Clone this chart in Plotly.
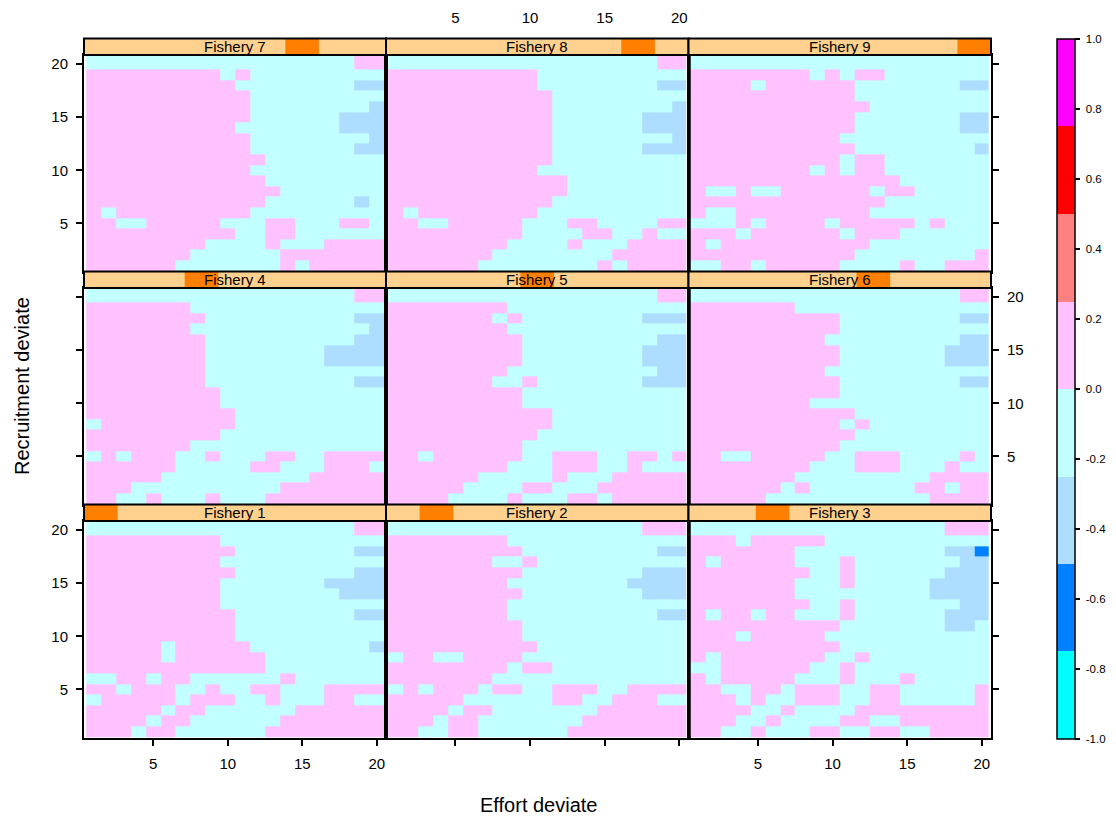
import numpy as np
import plotly.graph_objects as go

# ---------------- data (cell classes) ----------------
# rows listed from y=20 (top) down to y=1; columns x=1..20 (spaces only for readability)
# p: 0..0.25, c: -0.25..0, b: -0.5..-0.25, B: -0.75..-0.5
fishery1 = [
    "ccccc ccccc ccccc cccpp", "ppppp ppppc ccccc ccccc", "ppppp ppppp ccccc cccbb",
    "ppppp ppppc ccccc ccccc", "ppppp ppppp ccccc cccbb", "ppppp ppppc ccccc cbbbb",
    "ppppp ppppc ccccc ccbbb", "ppppp ppppc ccccc ccccc", "ppppp ppppp ccccc cccbb",
    "ppppp ppppp ccccc ccccc", "ppppp ppppp ccccc ccccc", "ppppp cpppp pcccc ccccb",
    "ppppp cpppp ppccc ccccc", "ppppp ppppp ppccc ccccc", "ccppc ppccc cccpc ccccc",
    "ppcpp pccpc cppcc cpppp", "cpppp pcppp ccpcc cppcc", "ppppp cppcc ccccp ppppp",
    "ppppc ppccc cccpp ppppp", "pppcp pcccc ccppp ppppp",
]
fishery2 = [
    "ccccc ccccc ccccc ccppp", "ppppp pppcc ccccc ccccc", "ppppp ppppc ccccc cccbb",
    "ppppp ppccp ccccc ccccc", "ppppp ppppc ccccc ccbbb", "ppppp pppcc ccccc cbbbb",
    "ppppp ppppc ccccc ccbbb", "ppppp pppcc ccccc ccccc", "ppppp pppcc ccccc cccbb",
    "ppppp ppppc ccccc ccccc", "ppppp ppppc ccccc ccccc", "ppppp ppppp ccccc ccccc",
    "cppcc ppppc ccccc ccccc", "ppppp pppcp pcccc ccccc", "ppppp ppccc ccccc ccccc",
    "cpcpp pcppc cpppc cpppp", "ppppp ccccc cppcc pppcc", "ppppc ppccc ccccp ppppp",
    "pppcp pcccc cccpp ppppp", "ppccp pcccc ccppp ppppp",
]
fishery3 = [
    "ccccc ccccc ccccc ccppp", "pppcp ppppc ccccc ccccc", "ppppp ppccc ccccc ccbbB",
    "pcppp ppccc pcccc cccbb", "ppppp pppcc pcccc ccbbb", "ppppp ppccc pcccc cbbbb",
    "ppppp ppccc ccccc cbbbb", "ppppp pppcc pcccc cccbb", "pcppc ppccc pcccc ccbbb",
    "ppppp ppppp ccccc ccbbc", "pppcp ppppc ccccc ccccc", "ppppp ppppp ccccc ccccc",
    "pcppp ppppc cpccc ccccc", "ccppp pppcc pcccc ccccc", "pcppp ppccc pcccp ccccc",
    "ppccp pcppp ccppc ccccp", "pppcp ccppp ccppc ccccp", "ppppc cpccc cpppp ppppp",
    "pppcc pcccc ppccp ppppp", "ppccp cccpp ccppc cpppp",
]
fishery4 = [
    "ccccc ccccc ccccc cccpp", "ppppp ppccc ccccc ccccc", "ppppp pppcc ccccc cccbb",
    "ppppp ppccc ccccc ccccb", "ppppp pppcc ccccc cccbb", "ppppp pppcc ccccc cbbbb",
    "ppppp pppcc ccccc cbbbb", "ppppp pppcc ccccc ccccc", "ppppp pppcc ccccc cccbb",
    "ppppp ppppc ccccc ccccc", "ppppp ppppc ccccc ccccc", "ppppp ppppp ccccc ccccc",
    "cpppp ppppp ccccc ccccc", "ppppp ppppc ccccc ccccc", "ppppp ppccc ccccc ccccc",
    "cpcpp pccpc ccppc cpppp", "ppppp pcccc cppcc cpppc", "ppppp ccccc ccccc ppppp",
    "pppcc ccccc cccpp ppppp", "ppccp cccpc ccppp ppppp",
]
fishery5 = [
    "ccccc ccccc ccccc cccpp", "ppppp pppcc ccccc ccccc", "ppppp ppcpc ccccc ccbbb",
    "ppppp pppcc ccccc ccccc", "ppppp ppppc ccccc cccbb", "ppppp ppppc ccccc ccbbb",
    "ppppp ppppc ccccc ccbbb", "ppppp pppcc ccccc cccbb", "ppppp ppccp ccccc ccbbb",
    "ppppp ppppc ccccc ccccc", "ppppp ppppc ccccc ccccc", "ppppp ppppp pcccc ccccc",
    "ppppp ppppp pcccc ccccc", "ppppp ppppp ccccc ccccc", "ppppp ppppc ccccc ccccc",
    "ppcpp ppppc cpppc cppcp", "ppppp pppcc cpppc cpccc", "ppppp pcccc cpccc ppppp",
    "ppppp ccccp pcccp ppppp", "ppppc cccpc ccppc ppppp",
]
fishery6 = [
    "ccccc ccccc ccccc cccpp", "ppppp ppccc ccccc ccccc", "ppppp ppppp ccccc cccbb",
    "ppppp ppppp ccccc ccccc", "ppppp ppppc ccccc cccbb", "ppppp ppppp ccccc ccbbb",
    "ppppp ppppp ccccc ccbbb", "ppppp ppppc ccccc ccccc", "ppppp ppppp ccccc cccbb",
    "ppppp ppppp ccccc ccccc", "ppppp pppcc ccccc ccccc", "ppppp ppppp pcccc ccccc",
    "ppppp ppppp cpccc ccccc", "ppppp ppppp pcccc ccccc", "ppppp ppppp ccccc ccccc",
    "ppccp ppppc cpppc cccpc", "ppppp pppcc cpppc ccpcc", "ppppp ppccc ccccc cpppp",
    "ppppp pcpcc ccccc ppcpp", "ppppp ccccc ccccc cpppp",
]
fishery7 = [
    "ccccc ccccc ccccc cccpp", "ppppp ppppc pcccc ccccc", "ppppp ppppp ccccc cccbb",
    "ppppp ppppp pcccc ccccc", "ppppp ppppp pcccc ccccb", "ppppp ppppp pcccc ccbbb",
    "ppppp ppppp ccccc ccbbb", "ppppp ppppp pcccc ccccb", "ppppp ppppp pcccc cccbb",
    "ppppp ppppp ppccc ccccc", "ppppp ppppp pcccc ccccc", "ppppp ppppp ppccc ccccc",
    "ppppp ppppp pppcc ccccc", "ppppp ppppp ppccc cccbc", "pcppp ppppp pcccc ccccc",
    "ppccp ppppc ccppc ccppc", "ppppp ppppp ccppc ccccc", "ppppp pppcc ccpcc cpppp",
    "ppppp ppccc cccpp ppppp", "ppppp pcccc cccpc ppppp",
]
fishery8 = [
    "ccccc ccccc ccccc cccpp", "ppppp ppppp ccccc ccccc", "ppppp ppppp ccccc cccbb",
    "ppppp ppppp pcccc ccccc", "ppppp ppppp pcccc ccccb", "ppppp ppppp pcccc ccbbb",
    "ppppp ppppp pcccc ccbbb", "ppppp ppppp pcccc ccccb", "ppppp ppppp pcccc ccbbb",
    "ppppp ppppp pcccc ccccc", "ppppp ppppp ccccc ccccc", "ppppp ppppp ppccc ccccc",
    "ppppp ppppp ppccc ccccc", "ppppp ppppp pcccc ccccc", "pcppp ppppp ccccc ccccc",
    "ppccp ppppc ccppc cccpp", "ppppp ppppc cccpp ccpcc", "ppppp pppcc ccpcc cpppp",
    "ppppp ppccc ccccc ppppp", "ppppp pcccc ccccp cpppp",
]
fishery9 = [
    "ccccc ccccc ccccc ccccc", "ppppp pppcp cppcc ccccc", "ppppc ppppp pcccc cccbb",
    "ppppp ppppp pcccc ccccc", "ppppp ppppp ppccc ccccc", "ppppp ppppp pcccc cccbb",
    "ppppp ppppp pcccc cccbb", "ppppp ppppp ccccc ccccc", "ppppp ppppp pcccc ccccb",
    "ppppp ppppp cppcc ccccc", "ppppp pppcp cppcc ccccc", "ppppp ppppp ppppc ccccc",
    "pccpc cpppp ppcpp ccccc", "ppppp ppppp pppcc ccccc", "pccpp ppppp ppccc ccccc",
    "cccpc ppppc ppppp cpccc", "pppcp ppppp cpppc ccccc", "pcppp ppppp ppccc ccccc",
    "ppppp ppppp pcccc ccccp", "ccppc ppppp ccccp ccppp",
]

panels = [fishery1, fishery2, fishery3, fishery4, fishery5,
          fishery6, fishery7, fishery8, fishery9]
panel_names = ["Fishery %d" % i for i in range(1, 10)]

# estimated value for each colour class
class_value = {"p": 0.12, "c": -0.12, "b": -0.37, "B": -0.62}

x_cells = list(range(1, 21))
tick_vals = [5, 10, 15, 20]
tick_labels = ["5", "10", "15", "20"]
cbar_ticks = [1.0, 0.8, 0.6, 0.4, 0.2, 0.0, -0.2, -0.4, -0.6, -0.8, -1.0]
cbar_labels = ["1.0", "0.8", "0.6", "0.4", "0.2", "0.0", "-0.2", "-0.4", "-0.6", "-0.8", "-1.0"]

band_colors = ["#00FFFF", "#0080FF", "#ADDEFF", "#C2FFFF",
               "#FFC2FF", "#FF8080", "#FF0000", "#FF00FF"]

# ---------------- geometry ----------------
# the page body has an 8px margin, so the figure is placed 8px in from the window
OFF = 8
W, H = 1100, 807
def fx(px):
    return (px - OFF) / W
def fy(py):
    return 1 - (py - OFF) / H

col_edges = [84, 386, 688.5, 991]
row_panels = {2: (55, 271.5), 1: (288, 504.5), 0: (521, 737.5)}  # row index 0 = bottom
STRIP_H = 16.5
X_RANGE = [0.35, 20.62]
Y_RANGE = [0.45, 20.87]
Y_TOP = 20.84
y_edges = list(np.arange(0.5, 20.0, 1.0)) + [Y_TOP]

# discrete colour scale
colorscale = []
n = len(band_colors)
for i, c in enumerate(band_colors):
    colorscale.append([i / n, c])
    colorscale.append([(i + 1) / n, c])

FONT = "Liberation Sans, Arial, sans-serif"
PAD = "\u00a0"   # small gap between colour-key ticks and their labels

fig = go.Figure()
layout = dict(
    width=W, height=H, margin=dict(l=0, r=0, t=0, b=0, autoexpand=False),
    paper_bgcolor="white", plot_bgcolor="white",
    font=dict(family=FONT, color="black"),
    showlegend=False,
)
shapes = []
annotations = []

for k in range(9):
    r = k // 3          # 0 bottom, 1 middle, 2 top
    c = k % 3
    rows = [s.replace(" ", "") for s in panels[k]]
    for s in rows:
        assert len(s) == 20, (k, s)
    z = [[class_value[ch] for ch in s] for s in reversed(rows)]

    xa = "x" if k == 0 else "x%d" % (k + 1)
    ya = "y" if k == 0 else "y%d" % (k + 1)
    fig.add_trace(go.Heatmap(
        z=z, x=x_cells, y=y_edges, xaxis=xa, yaxis=ya,
        zmin=-1, zmax=1, colorscale=colorscale,
        showscale=(k == 0),
        colorbar=dict(
            x=fx(1057.3), xanchor="left", xpad=0,
            y=fy(389), yanchor="middle", ypad=0,
            len=700, lenmode="pixels",
            thickness=18, thicknessmode="pixels",
            outlinewidth=1.5, outlinecolor="black",
            ticks="outside", ticklen=5, tickwidth=2, tickcolor="black",
            tickvals=cbar_ticks, ticktext=[PAD + t for t in cbar_labels],
            tickfont=dict(size=11.5, family=FONT, color="black"),
        ),
        hoverinfo="skip",
    ))

    x0, x1 = col_edges[c], col_edges[c + 1]
    py0, py1 = row_panels[r]

    # x axis ticks / labels (lattice alternating)
    xstand = 5
    if r == 0:
        xside, xticks = "bottom", "outside"
        xlabels = c in (0, 2)
    elif r == 2:
        xside, xticks = "top", "outside"
        xlabels = c == 1
        xstand = 18
    else:
        xside, xticks = "bottom", ""
        xlabels = False
    if c == 0:
        yside, yticks = "left", "outside"
        ylabels = r in (0, 2)
    elif c == 2:
        yside, yticks = "right", "outside"
        ylabels = r == 1
    else:
        yside, yticks = "left", ""
        ylabels = False

    axcommon = dict(showgrid=False, zeroline=False, showline=True, linecolor="black",
                    linewidth=2, mirror=True, tickvals=tick_vals, ticktext=tick_labels,
                    ticklen=6, tickwidth=2, tickcolor="black",
                    tickfont=dict(size=15, family=FONT, color="black"))
    layout["xaxis" if k == 0 else "xaxis%d" % (k + 1)] = dict(
        axcommon, domain=[fx(x0), fx(x1)], range=X_RANGE, anchor=ya,
        side=xside, ticks=xticks, showticklabels=xlabels, ticklabelstandoff=xstand)
    layout["yaxis" if k == 0 else "yaxis%d" % (k + 1)] = dict(
        axcommon, domain=[fy(py1), fy(py0)], range=Y_RANGE, anchor=xa,
        side=yside, ticks=yticks, showticklabels=ylabels, ticklabelstandoff=5)

    # strip
    sy0, sy1 = py0 - STRIP_H, py0
    shapes.append(dict(type="rect", xref="paper", yref="paper",
                       x0=fx(x0), x1=fx(x1), y0=fy(sy1), y1=fy(sy0),
                       fillcolor="#FFD18F", line=dict(width=0), layer="above"))
    bw = (x1 - x0) / 9.0
    shapes.append(dict(type="rect", xref="paper", yref="paper",
                       x0=fx(x0 + k * bw), x1=fx(x0 + (k + 1) * bw),
                       y0=fy(sy1), y1=fy(sy0),
                       fillcolor="#FF8000", line=dict(width=0), layer="above"))
    shapes.append(dict(type="rect", xref="paper", yref="paper",
                       x0=fx(x0), x1=fx(x1), y0=fy(sy1), y1=fy(sy0),
                       fillcolor="rgba(0,0,0,0)", line=dict(width=2, color="black"),
                       layer="above"))
    annotations.append(dict(text=panel_names[k], xref="paper", yref="paper",
                            x=fx((x0 + x1) / 2), y=fy((sy0 + sy1) / 2),
                            xanchor="center", yanchor="middle", showarrow=False,
                            font=dict(size=15, family=FONT, color="black")))

annotations.append(dict(text="Recruitment deviate", xref="paper", yref="paper",
                        x=fx(22), y=fy(386), textangle=-90, showarrow=False,
                        xanchor="center", yanchor="middle",
                        font=dict(size=20, family=FONT, color="black")))
annotations.append(dict(text="Effort deviate", xref="paper", yref="paper",
                        x=fx(538), y=fy(805), showarrow=False,
                        xanchor="center", yanchor="middle",
                        font=dict(size=20, family=FONT, color="black")))

layout["shapes"] = shapes
layout["annotations"] = annotations
fig.update_layout(**layout)
fig.write_html("out.html")
